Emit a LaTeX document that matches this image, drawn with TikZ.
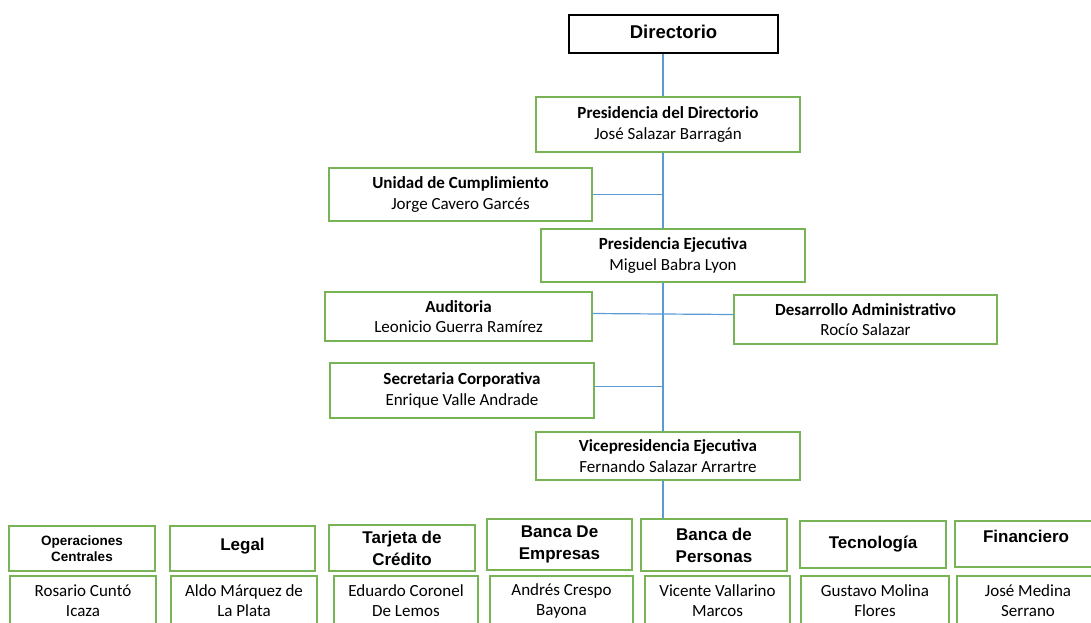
\documentclass[tikz,border=0pt]{standalone}
\usepackage{fontspec}
\setmainfont{Carlito}
\newfontfamily\arialfont{Liberation Sans}
\definecolor{boxgreen}{RGB}{120,180,85}
\definecolor{linkblue}{RGB}{91,155,213}

\begin{document}
\begin{tikzpicture}[x=1pt,y=-1pt,
        unit/.style={draw=boxgreen,line width=1.3pt,align=center,inner sep=0pt,
            font=\fontsize{17}{20.5}\selectfont},
        area/.style={unit,font=\arialfont\bfseries\fontsize{17}{22}\selectfont},
        person/.style={unit,font=\fontsize{17}{20}\selectfont},
        link/.style={draw=linkblue,line width=1.2pt}]
    \useasboundingbox (0,0) rectangle (1091,622);
    \clip (0,0) rectangle (1091,622);

    % upper chain
    \node[draw=black,line width=1.2pt,inner sep=0pt,minimum width=209,minimum height=38,
        font=\arialfont\bfseries\fontsize{18.5}{22}\selectfont] (dir) at (673.5,34) {\raisebox{4pt}{Directorio}};
    \node[unit,minimum width=264,minimum height=55] (pdir) at (668,124.5)
        {\textbf{Presidencia del Directorio}\\José Salazar Barragán};
    \node[unit,minimum width=263,minimum height=53] (cumpl) at (460.5,194.5)
        {\textbf{Unidad de Cumplimiento}\\Jorge Cavero Garcés};
    \node[unit,minimum width=264,minimum height=53] (pejec) at (673,255.5)
        {\textbf{Presidencia Ejecutiva}\\Miguel Babra Lyon};
    \node[unit,minimum width=267,minimum height=49] (audit) at (458.5,316.5)
        {\textbf{Auditoria}\\Leonicio Guerra Ramírez};
    \node[unit,minimum width=263,minimum height=49] (desarr) at (865.5,319.5)
        {\textbf{Desarrollo Administrativo}\\Rocío Salazar};
    \node[unit,minimum width=264,minimum height=55] (secret) at (462,390.5)
        {\textbf{Secretaria Corporativa}\\Enrique Valle Andrade};
    \node[unit,minimum width=264,minimum height=48] (vpe) at (668,456)
        {\textbf{Vicepresidencia Ejecutiva}\\Fernando Salazar Arrartre};

    % areas
    \node[area,minimum width=146,minimum height=45,
        font=\arialfont\bfseries\fontsize{13.5}{16}\selectfont] (hopc) at (82,548.5)
        {Operaciones\\Centrales};
    \node[area,minimum width=145,minimum height=45] (hleg) at (242.5,548.5) {\raisebox{8pt}{Legal}};
    \node[area,minimum width=146,minimum height=46] (htar) at (402,548) {Tarjeta de\\Crédito};
    \node[area,minimum width=145,minimum height=51] (hemp) at (559.5,544.5) {Banca De\\Empresas};
    \node[area,minimum width=146,minimum height=52] (hpers) at (714,545) {Banca de\\Personas};
    \node[area,minimum width=146,minimum height=47] (htec) at (873,544.5) {\raisebox{5pt}{Tecnología}};
    \node[area,minimum width=142,minimum height=46] (hfin) at (1026,544) {\raisebox{15pt}{Financiero}};

    % heads of area
    \node[person,minimum width=146,minimum height=50] (nopc) at (83,601) {Rosario Cuntó\\Icaza};
    \node[person,minimum width=146,minimum height=50] (nleg) at (244,601) {Aldo Márquez de\\La Plata};
    \node[person,minimum width=144,minimum height=50] (ntar) at (406,601) {Eduardo Coronel\\De Lemos};
    \node[person,minimum width=143,minimum height=50] (nemp) at (561.5,601) {Andrés Crespo\\Bayona};
    \node[person,minimum width=145,minimum height=50] (npers) at (717.5,601) {Vicente Vallarino\\Marcos};
    \node[person,minimum width=148,minimum height=50] (ntec) at (875,601) {Gustavo Molina\\Flores};
    \node[person,minimum width=142,minimum height=50] (nfin) at (1028,601) {José Medina\\Serrano};

    % connectors
    \coordinate (trunk) at (663,0);
    \draw[link] (dir.south -| trunk) -- (pdir.north -| trunk);
    \draw[link] (pdir.south -| trunk) -- (pejec.north -| trunk);
    \draw[link] (pejec.south -| trunk) -- (vpe.north -| trunk);
    \draw[link] (vpe.south -| trunk) -- (hpers.north -| trunk);
    \draw[link] (cumpl.east) -- (cumpl.east -| trunk);
    \draw[link] ([yshift=3]audit.east) -- ([yshift=5]desarr.west);
    \draw[link] ([yshift=4]secret.east) -- ([yshift=4]secret.east -| trunk);
\end{tikzpicture}
\end{document}
